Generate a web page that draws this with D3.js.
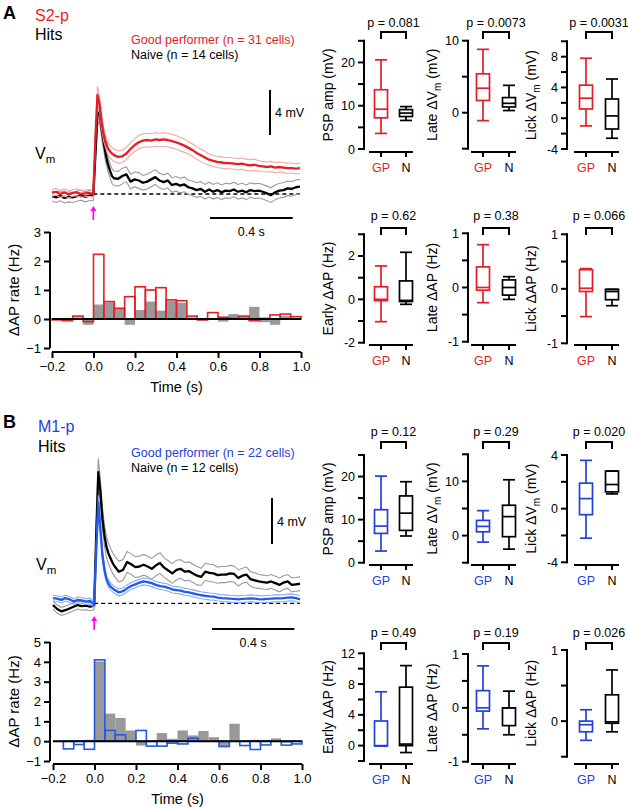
<!DOCTYPE html>
<html><head><meta charset="utf-8">
<script src="https://cdn.jsdelivr.net/npm/d3@7"></script>
<style>
body{margin:0;background:#fff}
svg{display:block}
text{font-family:"Liberation Sans",Arial,Helvetica,sans-serif;fill:#000}
</style>
</head><body>
<svg id="fig" width="628" height="808"></svg>
<script>
// ---------------- DATA ----------------
const timeGrid = [-0.2,-0.18,-0.16,-0.14,-0.12,-0.1,-0.08,-0.06,-0.04,-0.02,0,
  0.01,0.02,0.03,0.04,0.05,0.06,0.07,0.08,0.09,0.1,
  0.12,0.14,0.16,0.18,0.2,0.22,0.24,0.26,0.28,0.3,0.32,0.34,0.36,0.38,0.4,0.42,0.44,0.46,0.48,0.5,
  0.52,0.54,0.56,0.58,0.6,0.62,0.64,0.66,0.68,0.7,0.72,0.74,0.76,0.78,0.8,0.82,0.84,0.86,0.88,0.9,
  0.92,0.94,0.96,0.98,1.0];

// Panel A (S2-p) Vm traces, mV
const vmA_GP = [0.1,0.2,0.0,0.15,-0.05,0.1,0.15,0.0,0.05,0.1,0.0,
  5.0,8.8,8.0,6.4,5.3,4.6,4.1,3.8,3.6,3.45,
  3.3,3.35,3.6,4.0,4.35,4.6,4.75,4.8,4.75,4.85,4.8,4.85,4.8,4.7,4.6,4.45,4.3,4.1,3.9,3.65,
  3.45,3.25,3.05,2.95,2.85,2.8,2.75,2.75,2.7,2.65,2.7,2.6,2.55,2.6,2.5,2.45,2.4,2.45,2.35,2.4,
  2.35,2.3,2.3,2.25,2.3];
const semA_GP = [0.3,0.3,0.3,0.3,0.3,0.3,0.3,0.3,0.3,0.3,0.3,
  0.5,0.8,0.75,0.65,0.6,0.55,0.55,0.55,0.55,0.55,
  0.55,0.55,0.55,0.55,0.55,0.6,0.6,0.6,0.6,0.6,0.6,0.6,0.6,0.6,0.6,0.6,0.6,0.55,0.55,0.55,
  0.55,0.55,0.5,0.5,0.5,0.5,0.5,0.5,0.5,0.5,0.5,0.5,0.5,0.5,0.45,0.45,0.45,0.45,0.45,0.45,
  0.45,0.45,0.45,0.45,0.45];
const vmA_N = [-0.2,-0.3,-0.15,-0.35,-0.25,-0.3,-0.2,-0.1,-0.25,-0.15,-0.1,
  3.5,7.0,7.3,5.8,4.6,3.5,2.7,2.1,1.6,1.4,
  1.35,1.6,1.75,1.1,1.3,1.2,1.0,1.1,1.3,1.5,1.2,1.05,1.2,0.8,0.9,0.75,0.85,0.6,0.5,0.35,
  0.45,0.2,0.4,0.2,0.35,0.15,0.3,0.25,0.4,0.2,0.3,0.15,0.35,0.25,0.3,0.2,0.05,-0.1,0.15,0.3,
  0.35,0.5,0.45,0.6,0.65];
const semA_N = [0.45,0.45,0.45,0.45,0.45,0.45,0.45,0.45,0.45,0.45,0.45,
  0.6,0.9,0.9,0.8,0.7,0.7,0.65,0.65,0.65,0.65,
  0.65,0.7,0.65,0.65,0.65,0.7,0.65,0.65,0.65,0.65,0.65,0.65,0.65,0.65,0.65,0.65,0.65,0.65,0.65,0.65,
  0.65,0.65,0.65,0.65,0.65,0.65,0.65,0.65,0.65,0.65,0.65,0.65,0.65,0.65,0.65,0.65,0.65,0.65,0.65,0.65,
  0.65,0.65,0.65,0.65,0.65];

// Panel B (M1-p) Vm traces, mV
const vmB_GP = [0.45,0.4,0.3,0.45,0.35,0.15,0.3,0.25,0.15,0.2,-0.1,
  4.5,8.8,6.5,4.2,2.9,2.1,1.7,1.45,1.3,1.15,
  0.95,1.05,1.3,1.5,1.65,1.8,1.9,1.85,1.75,1.6,1.5,1.45,1.35,1.2,1.15,1.1,1.0,0.95,0.87,0.78,
  0.7,0.65,0.6,0.58,0.5,0.45,0.43,0.4,0.38,0.35,0.38,0.4,0.43,0.4,0.37,0.35,0.38,0.4,0.43,0.43,
  0.45,0.5,0.52,0.45,0.35];
const semB_GP = [0.25,0.25,0.25,0.25,0.25,0.25,0.25,0.25,0.25,0.25,0.25,
  0.4,0.6,0.5,0.4,0.35,0.3,0.3,0.3,0.3,0.3,
  0.3,0.3,0.3,0.3,0.3,0.3,0.3,0.3,0.3,0.3,0.3,0.3,0.3,0.3,0.3,0.3,0.3,0.3,0.3,0.3,
  0.3,0.3,0.3,0.3,0.3,0.3,0.3,0.3,0.3,0.3,0.3,0.3,0.3,0.3,0.3,0.3,0.3,0.3,0.3,0.3,
  0.3,0.3,0.3,0.3,0.3];
const vmB_N = [-0.15,-0.5,-0.7,-0.6,-0.45,-0.3,-0.15,-0.25,-0.2,-0.3,-0.2,
  6.0,11.4,9.8,7.4,5.9,4.9,4.3,3.9,3.5,3.2,
  2.75,2.9,3.6,3.4,3.15,3.2,3.35,3.2,3.0,3.3,3.5,3.1,2.85,2.6,2.9,3.0,2.75,2.8,2.6,2.4,
  2.3,2.75,2.65,2.6,2.45,2.5,2.5,2.6,2.55,2.2,2.4,2.5,2.1,2.0,1.9,1.85,1.8,1.9,1.75,1.6,
  1.8,1.9,1.6,1.65,1.7];
const semB_N = [0.35,0.35,0.35,0.35,0.35,0.35,0.35,0.35,0.35,0.35,0.35,
  0.8,1.2,1.0,0.9,0.9,0.9,0.9,0.9,0.9,0.9,
  0.9,0.9,0.9,0.9,0.9,0.9,0.9,0.9,0.9,0.9,0.9,0.85,0.85,0.85,0.85,0.8,0.8,0.8,0.8,0.8,
  0.75,0.75,0.75,0.75,0.7,0.7,0.7,0.7,0.7,0.7,0.65,0.65,0.65,0.65,0.6,0.6,0.6,0.6,0.6,0.6,
  0.6,0.6,0.6,0.6,0.6];

// Histograms (ΔAP rate, Hz), 50 ms bins
const binStarts = [-0.2,-0.15,-0.1,-0.05,0,0.05,0.1,0.15,0.2,0.25,0.3,0.35,0.4,0.45,0.5,0.55,0.6,0.65,0.7,0.75,0.8,0.85,0.9,0.95];
const binWidth = 0.05;
const apA_GP = [-0.03,-0.06,0.1,-0.09,2.23,0.6,0.37,0.77,1.11,1.0,1.08,0.66,0.63,0.1,-0.03,0.22,0.06,0.02,0.1,-0.06,0.02,0.14,0.17,0.08];
const apA_N  = [0.03,-0.02,0.05,-0.2,0.5,0.57,0.35,-0.2,0.31,0.6,0.29,0.62,0.56,0.05,-0.05,-0.03,-0.09,0.17,0.08,0.42,-0.11,-0.2,0.1,0.02];
const apB_GP = [0,-0.39,-0.17,-0.41,4.1,0.54,0.32,0,0.54,-0.25,-0.25,-0.1,-0.14,0.15,0,0,-0.27,0,-0.22,-0.42,-0.19,0,-0.2,-0.14];
const apB_N  = [0.03,0,0.03,0.07,4.02,1.39,1.17,0.54,-0.22,-0.05,0.41,0.12,0.54,0.29,0.51,0.2,-0.25,0.88,0.03,0.07,0.03,0.14,-0.07,-0.05];
const timeTicks = [-0.2,0,0.2,0.4,0.6,0.8,1.0];
const histTicksA = [-1,0,1,2,3];
const histTicksB = [-1,0,1,2,3,4,5];

// Box plots: [whisker low, Q1, median, Q3, whisker high]
const groupLabels = ["GP","N"];
const boxTitles = ["PSP amp (mV)","Late ΔV_m (mV)","Lick ΔV_m (mV)","Early ΔAP (Hz)","Late ΔAP (Hz)","Lick ΔAP (Hz)"];
const pValuesA = ["0.081","0.0073","0.0031","0.62","0.38","0.066"];
const pValuesB = ["0.12","0.29","0.020","0.49","0.19","0.026"];
const boxA_GP = [[3.6,7.2,9.2,13.7,20.6],[-1.1,1.7,3.4,5.4,8.8],[-1.0,1.2,2.6,4.3,7.8],
                 [-1.03,-0.06,0.0,0.58,1.54],[-0.28,-0.05,0.0,0.38,0.79],[-0.51,-0.05,0.01,0.35,0.37]];
const boxA_N  = [[6.6,7.5,8.3,9.1,9.8],[0.3,0.8,1.3,2.1,3.8],[-2.6,-1.4,0.3,2.5,5.1],
                 [-0.23,-0.1,-0.05,0.85,2.17],[-0.22,-0.14,0.0,0.14,0.2],[-0.31,-0.2,-0.05,-0.01,-0.01]];
const boxB_GP = [[2.7,6.8,8.5,12.3,20.1],[-1.2,0.7,1.7,2.8,4.6],[-2.2,-0.45,0.75,1.9,3.6],
                 [-0.05,-0.05,0.0,3.2,7.0],[-0.39,-0.06,0.0,0.32,0.78],[-0.27,-0.15,-0.05,0.0,0.16]];
const boxB_N  = [[6.2,7.5,11.5,15.5,18.8],[-2.5,-0.2,3.5,5.6,10.3],[1.1,1.25,1.8,2.8,2.8],
                 [-0.9,0.0,0.2,7.6,10.4],[-0.5,-0.33,0.0,0.0,0.31],[-0.15,-0.03,-0.01,0.37,0.72]];
// axis domains, major (labelled) ticks and minor ticks
const boxDomainsA = [[0,25],[-5,10],[-4,10],[-2,3],[-1,1],[-1,1]];
const boxDomainsB = [[0,25],[-5,15],[-4,4],[-2,12],[-1,1],[-0.5,1]];
const boxLabelTicksA = [[0,10,20],[0,10],[-4,0,4,8],[-2,0,2],[-1,0,1],[-1,0,1]];
const boxLabelTicksB = [[0,10,20],[0,10],[-4,0,4],[0,4,8,12],[-1,0,1],[0,1]];
const boxAllTicksA = [[0,5,10,15,20,25],[-5,0,5,10],[-4,-2,0,2,4,6,8,10],[-2,-1,0,1,2,3],[-1,-0.5,0,0.5,1],[-1,-0.5,0,0.5,1]];
const boxAllTicksB = [[0,5,10,15,20,25],[-5,0,5,10,15],[-4,-2,0,2,4],[-2,0,2,4,6,8,10,12],[-1,-0.5,0,0.5,1],[-0.5,0,0.5,1]];

// ---------------- STYLE ----------------
const RED = "#e41e26", RED_L = "#f4a5a5";
const BLUE = "#2340dc", BLUE_T = "#1f5ae8", BLUE_L = "#86a8f5";
const GRAY_L = "#9a9a9a", BAR_GRAY = "#999999";
const MAG = "#ff00ff";

const svg = d3.select("#fig");

// ---------------- HELPERS ----------------
function txt(g, x, y, s, opt = {}) {
  const t = g.append("text").attr("x", x).attr("y", y).text(s)
    .style("font-size", (opt.size || 12.5) + "px");
  if (opt.anchor) t.attr("text-anchor", opt.anchor);
  if (opt.fill) t.style("fill", opt.fill);
  if (opt.weight) t.style("font-weight", opt.weight);
  return t;
}

function drawTraces(cfg) {
  const g = svg.append("g");
  const x = d3.scaleLinear().domain([-0.2, 1.0]).range(cfg.xr);
  const y = d3.scaleLinear().domain([0, 4]).range([cfg.y0, cfg.y0 - cfg.px4]);
  const line = (vals, off, sgn) => d3.line()
      .x((d, i) => x(timeGrid[i]))
      .y((d, i) => y(vals[i] + sgn * off[i]))(vals);
  // dashed baseline
  g.append("line").attr("x1", x(0)).attr("x2", x(1.0)).attr("y1", y(0)).attr("y2", y(0))
    .attr("stroke", "#000").attr("stroke-width", 1.3).attr("stroke-dasharray", "4,3");
  cfg.series.forEach(s => {
    [1, -1].forEach(sg => g.append("path").attr("d", line(s.v, s.sem, sg))
      .attr("fill", "none").attr("stroke", s.light).attr("stroke-width", 1.1));
    g.append("path").attr("d", line(s.v, s.v.map(() => 0), 1))
      .attr("fill", "none").attr("stroke", s.color).attr("stroke-width", 2.3)
      .attr("stroke-linejoin", "round");
  });
  // vertical scale bar 4 mV
  g.append("line").attr("x1", cfg.sbX).attr("x2", cfg.sbX).attr("y1", cfg.sbY).attr("y2", cfg.sbY + (y(0) - y(4)))
    .attr("stroke", "#000").attr("stroke-width", 2);
  txt(g, cfg.sbX + 5, cfg.sbY + (y(0) - y(4)) / 2 + 4.5, "4 mV");
  // time scale bar 0.4 s
  const L = x(0.4) - x(0);
  g.append("line").attr("x1", cfg.tbX).attr("x2", cfg.tbX + L).attr("y1", cfg.tbY).attr("y2", cfg.tbY)
    .attr("stroke", "#000").attr("stroke-width", 2);
  txt(g, cfg.tbX + L / 2, cfg.tbY + 18, "0.4 s", { anchor: "middle" });
  // Vm label
  const vt = txt(g, cfg.vmX, cfg.vmY, "V", { size: 16 });
  vt.append("tspan").attr("dy", 4).style("font-size", "11.5px").text("m");
  // magenta arrow
  const ax = x(0);
  g.append("line").attr("x1", ax).attr("x2", ax).attr("y1", cfg.arrY + 14).attr("y2", cfg.arrY + 3)
    .attr("stroke", MAG).attr("stroke-width", 1.6);
  g.append("path").attr("d", `M${ax - 3},${cfg.arrY + 5} L${ax},${cfg.arrY} L${ax + 3},${cfg.arrY + 5} Z`)
    .attr("fill", MAG);
}

function drawHist(cfg) {
  const g = svg.append("g");
  const x = d3.scaleLinear().domain([-0.2, 1.0]).range(cfg.xr);
  const y = d3.scaleLinear().domain(cfg.yd).range(cfg.yr);
  const bars = (vals, fill, stroke) => g.selectAll(null).data(vals).enter().append("rect")
    .attr("x", (d, i) => x(binStarts[i]))
    .attr("width", (d, i) => x(binStarts[i] + binWidth) - x(binStarts[i]))
    .attr("y", d => y(Math.max(0, d)))
    .attr("height", d => Math.abs(y(d) - y(0)))
    .attr("fill", fill).attr("stroke", stroke).attr("stroke-width", stroke === "none" ? 0 : 1.6);
  bars(cfg.naive, BAR_GRAY, "none");
  bars(cfg.gp, "none", cfg.color);
  g.append("line").attr("x1", x(-0.2)).attr("x2", x(1.0)).attr("y1", y(0)).attr("y2", y(0))
    .attr("stroke", "#000").attr("stroke-width", 2);
  // y axis
  const ya = g.append("g").attr("transform", `translate(${cfg.yAxisX},0)`)
    .call(d3.axisLeft(y).tickValues(cfg.yTicks).tickSize(6).tickPadding(3).tickFormat(d3.format("d")));
  ya.select(".domain").attr("stroke-width", 2).attr("d", `M0,${y(cfg.yd[0])}V${y(cfg.yd[1])}`);
  ya.selectAll(".tick line").attr("stroke-width", 2);
  ya.selectAll("text").style("font-size", "13px").style("font-family", '"Liberation Sans",Arial,sans-serif');
  // x axis
  const xa = g.append("g").attr("transform", `translate(0,${cfg.xAxisY})`)
    .call(d3.axisBottom(x).tickValues(timeTicks).tickSize(6).tickPadding(4).tickFormat(d3.format(".1f")));
  xa.select(".domain").attr("stroke-width", 2).attr("d", `M${x(-0.2)},0H${x(1.0)}`);
  xa.selectAll(".tick line").attr("stroke-width", 2);
  xa.selectAll("text").style("font-size", "13px").style("font-family", '"Liberation Sans",Arial,sans-serif');
  txt(g, (x(-0.2) + x(1.0)) / 2, cfg.xAxisY + 40, "Time (s)", { anchor: "middle", size: 14.5 });
  txt(g, 0, 0, "ΔAP rate (Hz)", { anchor: "middle", size: 15 })
    .attr("transform", `translate(${cfg.yLabX},${(y(cfg.yd[0]) + y(cfg.yd[1])) / 2}) rotate(-90)`);
}

function drawBox(cfg) {
  const g = svg.append("g");
  const y = d3.scaleLinear().domain(cfg.domain).range(cfg.yr);
  // y axis
  g.append("line").attr("x1", cfg.axisX).attr("x2", cfg.axisX).attr("y1", y(cfg.domain[0]) + 1).attr("y2", y(cfg.domain[1]) - 1)
    .attr("stroke", "#000").attr("stroke-width", 2);
  cfg.allTicks.forEach(t => g.append("line").attr("x1", cfg.axisX - 6).attr("x2", cfg.axisX)
    .attr("y1", y(t)).attr("y2", y(t)).attr("stroke", "#000").attr("stroke-width", 2));
  cfg.labelTicks.forEach(t => txt(g, cfg.axisX - 9, y(t) + 4.5, String(t), { anchor: "end", size: 12.5 }));
  // x axis
  g.append("line").attr("x1", cfg.gpX - 12).attr("x2", cfg.nX + 7).attr("y1", cfg.xAxisY).attr("y2", cfg.xAxisY)
    .attr("stroke", "#000").attr("stroke-width", 2);
  [cfg.gpX, cfg.nX].forEach((px, i) => {
    g.append("line").attr("x1", px).attr("x2", px).attr("y1", cfg.xAxisY).attr("y2", cfg.xAxisY + 5)
      .attr("stroke", "#000").attr("stroke-width", 2);
    txt(g, px, cfg.xAxisY + 20, groupLabels[i], { anchor: "middle", size: 12.5, fill: i === 0 ? cfg.color : "#000" });
  });
  // boxes
  const bw = 13;
  [[cfg.gp, cfg.gpX, cfg.color], [cfg.n, cfg.nX, "#000"]].forEach(([s, px, col]) => {
    const [lo, q1, md, q3, hi] = s;
    const st = (sel) => sel.attr("stroke", col).attr("stroke-width", 1.7).attr("fill", "none");
    st(g.append("line").attr("x1", px).attr("x2", px).attr("y1", y(hi)).attr("y2", y(q3)));
    st(g.append("line").attr("x1", px).attr("x2", px).attr("y1", y(q1)).attr("y2", y(lo)));
    st(g.append("line").attr("x1", px - bw / 2 + 0.5).attr("x2", px + bw / 2 - 0.5).attr("y1", y(hi)).attr("y2", y(hi)));
    st(g.append("line").attr("x1", px - bw / 2 + 0.5).attr("x2", px + bw / 2 - 0.5).attr("y1", y(lo)).attr("y2", y(lo)));
    st(g.append("rect").attr("x", px - bw / 2).attr("width", bw).attr("y", y(q3)).attr("height", Math.max(0.5, y(q1) - y(q3))));
    st(g.append("line").attr("x1", px - bw / 2).attr("x2", px + bw / 2).attr("y1", y(md)).attr("y2", y(md)));
  });
  // bracket + p value
  const b = cfg.bracketY;
  g.append("path").attr("d", `M${cfg.gpX},${b + 7}V${b}H${cfg.nX}V${b + 7}`)
    .attr("fill", "none").attr("stroke", "#000").attr("stroke-width", 2);
  txt(g, (cfg.gpX + cfg.nX) / 2, cfg.pY, "p = " + cfg.p, { anchor: "middle", size: 12.5 });
  // title
  const mid = (y(cfg.domain[0]) + y(cfg.domain[1])) / 2;
  const tt = g.append("text").attr("text-anchor", "middle").style("font-size", "14px")
    .attr("transform", `translate(${cfg.axisX - 31},${mid}) rotate(-90)`);
  const parts = cfg.title.split("_m");
  tt.append("tspan").text(parts[0]);
  if (parts.length > 1) {
    tt.append("tspan").attr("dy", 4).style("font-size", "10px").text("m");
    tt.append("tspan").attr("dy", -4).text(parts[1]);
  }
}

// ---------------- PANEL A ----------------
txt(svg, 3, 19, "A", { size: 18, weight: "bold" });
txt(svg, 35, 21, "S2-p", { size: 16, fill: RED });
txt(svg, 35, 40, "Hits", { size: 16 });
txt(svg, 131, 43.5, "Good performer (n = 31 cells)", { size: 12.5, fill: RED });
txt(svg, 131, 58.5, "Naive (n = 14 cells)", { size: 12.5 });

drawTraces({
  xr: [52, 300], y0: 194, px4: 45,
  series: [{ v: vmA_N, sem: semA_N, color: "#000", light: GRAY_L },
           { v: vmA_GP, sem: semA_GP, color: RED, light: RED_L }],
  sbX: 270, sbY: 90, tbX: 210, tbY: 218, vmX: 35, vmY: 159, arrY: 206
});
drawHist({ xr: [52, 301], yd: [-1, 3], yr: [348, 232], yTicks: histTicksA, yAxisX: 50, xAxisY: 352,
  gp: apA_GP, naive: apA_N, color: RED, yLabX: 19 });

// ---------------- PANEL B ----------------
txt(svg, 3, 428, "B", { size: 18, weight: "bold" });
txt(svg, 38, 432, "M1-p", { size: 16, fill: BLUE });
txt(svg, 38, 451.5, "Hits", { size: 16 });
txt(svg, 131, 457, "Good performer (n = 22 cells)", { size: 12.5, fill: BLUE });
txt(svg, 131, 472, "Naive (n = 12 cells)", { size: 12.5 });

drawTraces({
  xr: [53, 300], y0: 603.3, px4: 46,
  series: [{ v: vmB_N, sem: semB_N, color: "#000", light: GRAY_L },
           { v: vmB_GP, sem: semB_GP, color: BLUE_T, light: BLUE_L }],
  sbX: 272, sbY: 498, tbX: 212, tbY: 629, vmX: 36, vmY: 570, arrY: 616
});
drawHist({ xr: [53, 302], yd: [-1, 5], yr: [761, 642], yTicks: histTicksB, yAxisX: 50, xAxisY: 764,
  gp: apB_GP, naive: apB_N, color: BLUE_T, yLabX: 19 });

// ---------------- BOX PLOTS ----------------
const colAxisX = [364, 468, 567];
const colGpX = [381, 483, 586];
const colNX = [406, 509, 612];
const boxYRangesA = [[149, 40.8], [148.7, 40.7], [149, 41.3], [342.7, 234.3], [341.7, 233.3], [343.3, 234.3]];
const boxYRangesB = [[562.7, 455], [562.7, 454.3], [562.3, 455], [761, 653.3], [761.7, 654], [756.7, 650]];
const rowLayout = [
  { xAxisY: 152, bracketY: 32, pY: 26.5 },
  { xAxisY: 345, bracketY: 228, pY: 220 },
  { xAxisY: 565, bracketY: 442, pY: 436 },
  { xAxisY: 764, bracketY: 643, pY: 637 }
];
for (let i = 0; i < 6; i++) {
  const c = i % 3, r = Math.floor(i / 3);
  drawBox(Object.assign({ axisX: colAxisX[c], gpX: colGpX[c], nX: colNX[c], yr: boxYRangesA[i],
    domain: boxDomainsA[i], labelTicks: boxLabelTicksA[i], allTicks: boxAllTicksA[i], title: boxTitles[i],
    p: pValuesA[i], gp: boxA_GP[i], n: boxA_N[i], color: RED }, rowLayout[r]));
  drawBox(Object.assign({ axisX: colAxisX[c], gpX: colGpX[c], nX: colNX[c], yr: boxYRangesB[i],
    domain: boxDomainsB[i], labelTicks: boxLabelTicksB[i], allTicks: boxAllTicksB[i], title: boxTitles[i],
    p: pValuesB[i], gp: boxB_GP[i], n: boxB_N[i], color: BLUE }, rowLayout[r + 2]));
}
</script>
</body></html>
